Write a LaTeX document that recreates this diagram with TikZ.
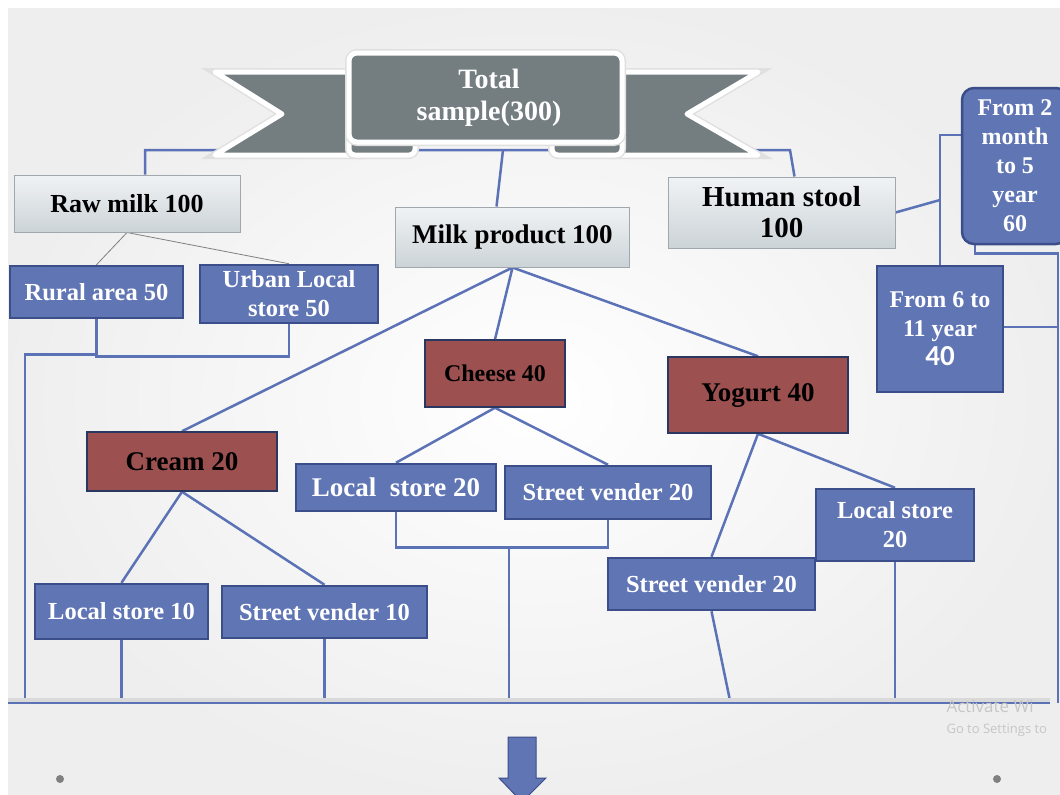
\documentclass[tikz,border=0pt]{standalone}
\usepackage{fontspec}
\setmainfont{Liberation Serif}
\newfontfamily\calfont{Carlito}
\newfontfamily\winfont{Open Sans}
\usetikzlibrary{positioning,calc}

\definecolor{boxblue}{RGB}{96,117,180}
\definecolor{boxedge}{RGB}{60,78,138}
\definecolor{linkblue}{RGB}{92,114,182}
\definecolor{boxred}{RGB}{156,80,80}
\definecolor{bannergray}{RGB}{116,126,129}
\definecolor{greytop}{RGB}{240,243,245}
\definecolor{greybot}{RGB}{204,211,215}
\definecolor{greyedge}{RGB}{160,168,174}

\pgfdeclarelayer{back}
\pgfdeclarelayer{lines}
\pgfsetlayers{back,lines,main}

\newcommand{\sz}[2]{\fontsize{#1}{#2}\selectfont}

\tikzset{
  box/.style={rectangle, inner sep=0pt, align=center},
  greybox/.style={box, draw=greyedge, line width=1pt, top color=greytop, bottom color=greybot, text=black},
  bluebox/.style={box, draw=boxedge, line width=2.5pt, fill=boxblue, text=white},
  redbox/.style={box, draw=boxedge!70!black, line width=1.5pt, fill=boxred, text=black},
  link/.style={draw=linkblue, line width=2.5pt},
  thinlink/.style={draw=gray, line width=0.8pt},
  banner/.style={fill=bannergray, draw=white, line width=5pt, line join=round,
    preaction={draw=black!12, line width=8pt}},
}

\begin{document}
\begin{tikzpicture}[x=1pt,y=-1pt]
  \useasboundingbox (0,0) rectangle (1060,795);
  \clip (0,0) rectangle (1060,795);
  \begin{pgfonlayer}{back}
    \fill[white] (0,0) rectangle (1060,795);
    \shade[inner color=white, outer color=gray!13] (8,8) rectangle (1060,795);
  \end{pgfonlayer}

  % banner
  \draw [banner] (215,72) -- (360,72) -- (360,155) -- (215,155) -- (282,114) -- cycle;
  \draw [banner] (758,72) -- (610,72) -- (610,155) -- (758,155) -- (687,114) -- cycle;
  \draw [banner, rounded corners=6] (349,130) rectangle (415,155);
  \draw [banner, rounded corners=6] (552,130) rectangle (622,155);
  \draw [banner, rounded corners=8] (349,53) rectangle (622,142);
  \node [box, text=white, minimum width=273, minimum height=89, font=\bfseries\sz{28}{32}] (total) at (489,97.5) {Total\\sample(300)};

  % boxes
  \node [greybox, minimum width=226, minimum height=57, font=\bfseries\sz{26}{31}] (raw) at (127,203.5) {Raw milk 100};
  \node [greybox, minimum width=234, minimum height=60, font=\bfseries\sz{27}{31}] (milk) at (512.5,237) {Milk product 100};
  \node [greybox, minimum width=227, minimum height=71, font=\bfseries\sz{29}{31}] (human) at (781.5,212.5) {Human stool\\100};

  \node [bluebox, minimum width=173, minimum height=52, font=\bfseries\sz{24.5}{29}] (rural) at (96.5,292) {Rural area 50};
  \node [bluebox, minimum width=178, minimum height=58, font=\bfseries\sz{24.5}{29}] (urban) at (289,294) {Urban Local\\store 50};

  \node [redbox, minimum width=140, minimum height=67, font=\bfseries\sz{24}{29}] (cheese) at (495,373.5) {Cheese 40};
  \node [redbox, minimum width=180, minimum height=76, font=\bfseries\sz{27}{29}] (yogurt) at (758,395) {Yogurt 40};
  \node [redbox, minimum width=190, minimum height=59, font=\bfseries\sz{27}{29}] (cream) at (182,461.5) {Cream 20};

  \node [bluebox, minimum width=200, minimum height=47, font=\bfseries\sz{27}{29}] (lcheese) at (396,487.5) {Local\ \ store 20};
  \node [bluebox, minimum width=206, minimum height=53, font=\bfseries\sz{24.5}{29}] (scheese) at (608,492.5) {Street vender 20};
  \node [bluebox, minimum width=158, minimum height=72, font=\bfseries\sz{24.5}{29}] (lyog) at (895,525) {Local store\\20};
  \node [bluebox, minimum width=207, minimum height=52, font=\bfseries\sz{24.5}{29}] (syog) at (711.5,584) {Street vender 20};
  \node [bluebox, minimum width=173, minimum height=55, font=\bfseries\sz{24.5}{29}] (lcream) at (121.5,611.5) {Local store 10};
  \node [bluebox, minimum width=205, minimum height=52, font=\bfseries\sz{24.5}{29}] (scream) at (324.5,612) {Street vender 10};

  \node [bluebox, rounded corners=12, minimum width=106, minimum height=156, font=\bfseries\sz{24}{29}] (m2) at (1015,166) {From 2\\month\\to 5\\year\\60};
  \node [bluebox, minimum width=126, minimum height=126, font=\bfseries\sz{24}{29}] (y11) at (940,329) {From 6 to\\11 year\\{\calfont\sz{29}{29}40}};

  \coordinate (top) at (503,150);
  \coordinate (hj) at (790,150);
  \coordinate (base) at (0,703);
  \coordinate (lb) at (25,703);
  \coordinate (rv) at (940,135);
  \coordinate (rb) at (1058,703);

  \begin{pgfonlayer}{lines}
  % top line, under the banner
  \draw [link] ([xshift=18pt]raw.north) |- (top) -- (hj) -- ([xshift=13pt]human.north);
  \draw [link] (top) -- ([xshift=-16pt]milk.north);

  % raw milk
  \draw [thinlink] (raw.south) -- (rural.north);
  \draw [thinlink] (raw.south) -- (urban.north);
  \draw [link] (rural.south) -- ++(0,37) -| (urban.south);
  \draw [link] ([yshift=-35pt]rural.south) -| (lb);

  % milk product
  \draw [link] (milk.south) -- (cream.north);
  \draw [link] (milk.south) -- (cheese.north);
  \draw [link] (milk.south) -- (yogurt.north);

  \draw [link] (cheese.south) -- (lcheese.north);
  \draw [link] (cheese.south) -- (scheese.north);
  \draw [link] (lcheese.south) -- ++(0,35) -| (scheese.south);
  \draw [link] ([xshift=113pt,yshift=-35pt]lcheese.south) -- ([xshift=113pt]lcheese.south |- base);

  \draw [link] (yogurt.south) -- (syog.north);
  \draw [link] (yogurt.south) -- (lyog.north);
  \draw [link] (syog.south) -- ([xshift=19pt]syog.south |- base);
  \draw [link] (lyog.south) -- (lyog.south |- base);

  \draw [link] (cream.south) -- (lcream.north);
  \draw [link] (cream.south) -- (scream.north);
  \draw [link] (lcream.south) -- (lcream.south |- base);
  \draw [link] (scream.south) -- (scream.south |- base);

  % human stool
  \draw [link] (human.east) -- (940,200);
  \draw [link] (m2.west |- rv) -- (rv) -- (y11.north);
  \draw [link] ([xshift=-40pt]m2.south) -- ++(0,8) -| (rb);
  \draw [link] ([xshift=42pt,yshift=2pt]y11.center) -- ([yshift=2pt]y11.center -| rb);

  % bottom line
  \draw [gray!30, line width=5pt] (8,700) -- (1050,700);
  \draw [link] (8,703) -- (1050,703);
  \end{pgfonlayer}

  \node [anchor=west, text=gray!45, font=\winfont\sz{17}{20}] (act) at (943,706) {Activate Wi};
  \node [anchor=west, text=gray!45, font=\winfont\sz{13}{16}] (set) at (943,730) {Go to Settings to};

  \draw [boxedge, fill=boxblue, line width=1pt] (508,737) -- (536,737) -- (536,778) -- (546,778) -- (522,802) -- (499,778) -- (508,778) -- cycle;
  \fill [gray] (60,779) circle (4pt);
  \fill [gray] (997,779) circle (4pt);
\end{tikzpicture}
\end{document}
